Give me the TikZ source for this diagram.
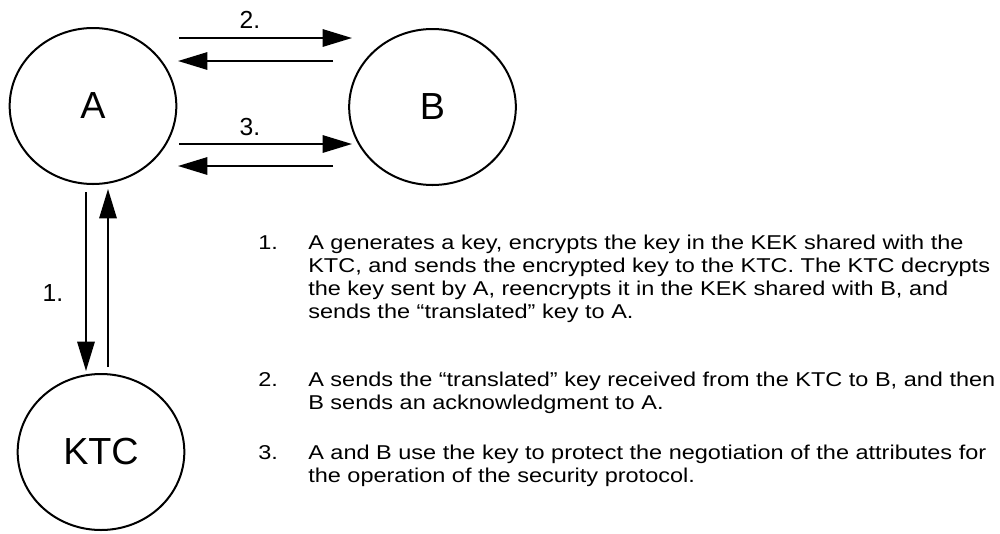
\documentclass[tikz,border=0pt]{standalone}
\usepackage{fontspec}
\setmainfont{Liberation Sans}
\newfontfamily\notefont[FakeStretch=1.175]{Liberation Sans}
\usetikzlibrary{arrows.meta,calc,shapes.geometric}

\newcommand\notesize{\notefont\fontsize{15}{17.25}\selectfont}

\begin{document}
\begin{tikzpicture}[x=0.75pt,y=-0.75pt,
  party/.style={ellipse,draw,line width=1.5pt,minimum width=125pt,
    minimum height=117pt,inner sep=0pt,font=\fontsize{28.3}{34}\selectfont},
  msg/.style={line width=1.5pt,-{Triangle[length=22pt,width=13pt]}},
  steplabel/.style={inner sep=0pt,font=\fontsize{18.5}{22}\selectfont},
  notenum/.style={anchor=base west,inner sep=0pt,font=\notesize},
  notetext/.style={anchor=base west,inner sep=0pt,font=\notesize}
]
\useasboundingbox (0,0) rectangle (1000,533);

% the three parties
\node[party] (A)   at (93,106)  {A};
\node[party] (B)   at (432.5,107) {B};
\node[party] (KTC) at (101,452) {KTC};

% step 2: A <-> B
\draw[msg] ($(A.center)+(86,-68)$) -- ($(B.center)+(-80.5,-69)$);
\draw[msg] ($(B.center)+(-99.5,-46)$) -- ($(A.center)+(85,-45)$);
\node[steplabel] (l2) at (250,20) {2.};

% step 3: A <-> B
\draw[msg] ($(A.center)+(86,38)$) -- ($(B.center)+(-80.5,37)$);
\draw[msg] ($(B.center)+(-99.5,59)$) -- ($(A.center)+(85,60)$);
\node[steplabel] (l3) at (250,127) {3.};

% step 1: A <-> KTC
\draw[msg] ($(A.center)+(-7,86)$) -- ($(KTC.center)+(-15,-81)$);
\draw[msg] ($(KTC.center)+(7,-85)$) -- ($(A.center)+(15,83)$);
\node[steplabel] (l1) at (53,293) {1.};

% explanation of the steps
\node[notenum] (n1) at (258,249) {1.};
\node[notetext] (t1) at (308,249) {\parbox[t]{700pt}{\notesize
A generates a key, encrypts the key in the KEK shared with the\\
KTC, and sends the encrypted key to the KTC. The KTC decrypts\\
the key sent by A, reencrypts it in the KEK shared with B, and\\
sends the “translated” key to A.}};

\node[notenum] (n2) at (258,386) {2.};
\node[notetext] (t2) at (308,386) {\parbox[t]{700pt}{\notesize
A sends the “translated” key received from the KTC to B, and then\\
B sends an acknowledgment to A.}};

\node[notenum] (n3) at (258,459) {3.};
\node[notetext] (t3) at (308,459) {\parbox[t]{700pt}{\notesize
A and B use the key to protect the negotiation of the attributes for\\
the operation of the security protocol.}};
\end{tikzpicture}
\end{document}
